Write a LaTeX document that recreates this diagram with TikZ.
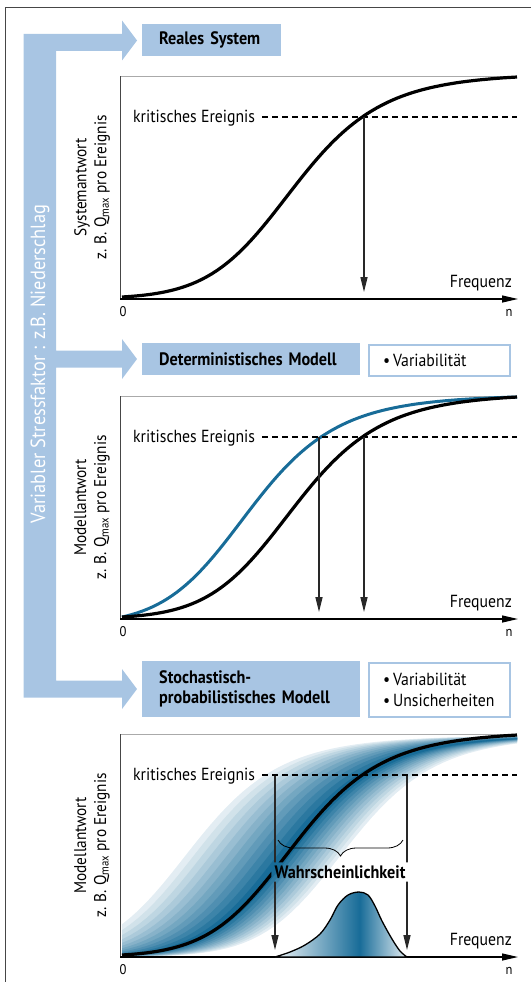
\documentclass[tikz,border=0pt]{standalone}
\usepackage{fontspec}
\setmainfont{PT Sans}[FakeStretch=0.9]
\usetikzlibrary{arrows.meta,decorations.pathreplacing}
\definecolor{stressblue}{RGB}{168,197,227}
\definecolor{modelblue}{RGB}{24,108,152}
\definecolor{framegray}{RGB}{70,70,70}
\definecolor{panelgray}{RGB}{170,170,170}
\definecolor{dropgray}{RGB}{40,40,40}
\pgfdeclarehorizontalshading{bellfill}{100bp}{color(0bp)=(modelblue!8); color(25bp)=(modelblue!8); color(57bp)=(modelblue); color(75bp)=(modelblue!12); color(100bp)=(modelblue!12)}
\tikzset{
  declare function={sg(\u,\m)=1/(1+exp(-(\u-\m)/(44+0.05*(\u-\m))));
    gn(\u,\m)=(sg(\u,\m)-sg(122,\m))/(sg(517,\m)-sg(122,\m));},
  txt/.style={font=\fontsize{17.5}{20}\selectfont, inner sep=0pt},
  small/.style={font=\fontsize{14}{16}\selectfont, inner sep=0pt},
  stagebox/.style={fill=stressblue, anchor=north west, inner xsep=17pt, inner ysep=0pt,
    text width=#1, align=left, font=\fontsize{18}{20}\selectfont\bfseries},
  infobox/.style={draw=stressblue, line width=2pt, anchor=north west, inner xsep=14pt,
    inner ysep=0pt, text width=#1, align=left, font=\fontsize{17.5}{21}\selectfont},
  resplabel/.style={rotate=90, align=center, font=\fontsize{17}{20}\selectfont, inner sep=0pt},
  sysline/.style={line width=3.2pt},
  modline/.style={line width=3pt, modelblue},
  critline/.style={line width=1.6pt, dash pattern=on 6pt off 4pt},
  droparrow/.style={dropgray, line width=1.3pt, -{Triangle[length=15pt,width=7pt]}},
  axisarrow/.style={line width=1.2pt, -{Triangle[length=16pt,width=7pt]}}
}
\begin{document}
\begin{tikzpicture}[x=1pt,y=-1pt]
\useasboundingbox (0,0) rectangle (531,982);
\draw[framegray, line width=0.9pt] (5,982) -- (5,7) -- (531,7);
\fill[stressblue] (23.5,34) -- (122,34) -- (122,20.5) -- (137,40.5) -- (122,60.5) -- (122,51)
  -- (56,51) -- (56,350.5) -- (122,350.5) -- (122,339) -- (137,359) -- (122,379) -- (122,367.5)
  -- (56,367.5) -- (56,680.5) -- (122,680.5) -- (122,669) -- (137,689) -- (122,709) -- (122,697.5)
  -- (23.5,697.5) -- cycle;
\node[rotate=90, white, font=\fontsize{20.5}{22}\selectfont, inner sep=0pt] (stress) at (40,364) {Variabler Stressfaktor : z.B. Niederschlag};
\node[stagebox=105pt, minimum height=32pt] (real) at (142,24) {Reales System};
\node[stagebox=184pt, minimum height=32pt] (det) at (142,343) {Deterministisches Modell};
\node[infobox=113pt, minimum height=31pt] (detinfo) at (368,344) {\textbullet\,Variabilität};
\node[stagebox=184pt, minimum height=56pt] (stoch) at (142,661) {Stochastisch-\\probabilistisches Modell};
\node[infobox=113pt, minimum height=54pt] (stochinfo) at (368,662) {\textbullet\,Variabilität\\\textbullet\,Unsicherheiten};
\foreach \o/\p/\r in {0/a/Systemantwort,320/b/Modellantwort,658/c/Modellantwort}{
  \draw[panelgray, line width=0.9pt] (120,76+\o) -- (517,76+\o);
  \draw[framegray, line width=1pt] (120,76+\o) -- (120,299+\o);
  \coordinate (orig\p) at (120,299+\o);
  \coordinate (end\p) at (518,299+\o);
  \node[resplabel] (resp\p) at (92,187.5+\o) {\r\\z. B. Q\textsubscript{max} pro Ereignis};
  \node[small] (zero\p) at (123,312+\o) {0};
  \node[small] (n\p) at (509,313+\o) {n};
  \node[txt, anchor=base east] (freq\p) at (512,287+\o) {Frequenz};
  \node[txt, anchor=base west] (krit\p) at (133,122+\o) {kritisches Ereignis};
}
\begin{scope}
\clip (120,735) rectangle (517,957);
\foreach \k in {0,...,11}{
  \pgfmathsetmacro\spread{1-\k/12}
  \pgfmathsetmacro\tint{12+8*\k}
  \fill[modelblue!\tint] plot[domain=122:517,samples=50] (\x,{957-222*sg(\x,293-100*\spread)})
    -- plot[domain=517:122,samples=50] (\x,{957-222*sg(\x,293+55*\spread)}) -- cycle;
}
\end{scope}
\draw[modline] plot[domain=122:517,samples=80] (\x,{617-220*gn(\x,250)});
\draw[sysline] plot[domain=122:517,samples=80] (\x,{297-220*gn(\x,295)});
\draw[sysline] plot[domain=122:517,samples=80] (\x,{617-220*gn(\x,295)});
\foreach \o in {0,320,658}{
  \draw[critline] (262,117+\o) -- (517,117+\o);
}
\foreach \p in {a,b,c}{
  \draw[axisarrow] (orig\p) -- (end\p);
}
\coordinate (hita) at (364,117);
\coordinate (foota) at (364,292);
\coordinate (hitb) at (364,437);
\coordinate (footb) at (364,612);
\coordinate (hitbb) at (319,437);
\coordinate (footbb) at (319,612);
\draw[droparrow] (hita) -- (foota);
\draw[droparrow] (hitb) -- (footb);
\draw[droparrow] (hitbb) -- (footbb);
\shadedraw[shading=bellfill, line width=1.3pt] plot[smooth, tension=0.55] coordinates {(275,957) (290,952) (305,945) (320,934) (330,920) (338,905) (348,895) (359,892) (368,895) (375,906) (382,921) (392,939) (400,951) (407,957)} -- cycle;
\node[txt, font=\fontsize{18}{20}\selectfont\bfseries] (prob) at (340,872) {Wahrscheinlichkeit};
\coordinate (lefthit) at (275,775);
\coordinate (leftfoot) at (275,950);
\coordinate (righthit) at (407,775);
\coordinate (rightfoot) at (407,950);
\begin{scope}[even odd rule]
\clip (0,0) rectangle (531,982) ([shift={(-3pt,-3pt)}]prob.south west) rectangle ([shift={(3pt,3pt)}]prob.north east);
\draw[sysline] plot[domain=122:517,samples=80] (\x,{955-220*gn(\x,295)});
\draw[droparrow] (lefthit) -- (leftfoot);
\draw[droparrow] (righthit) -- (rightfoot);
\end{scope}
\draw[critline] (262,775) -- (517,775);
\draw[line width=0.8pt, decorate, decoration={brace, amplitude=16pt}] (403,840) -- (278,840);
\end{tikzpicture}
\end{document}
